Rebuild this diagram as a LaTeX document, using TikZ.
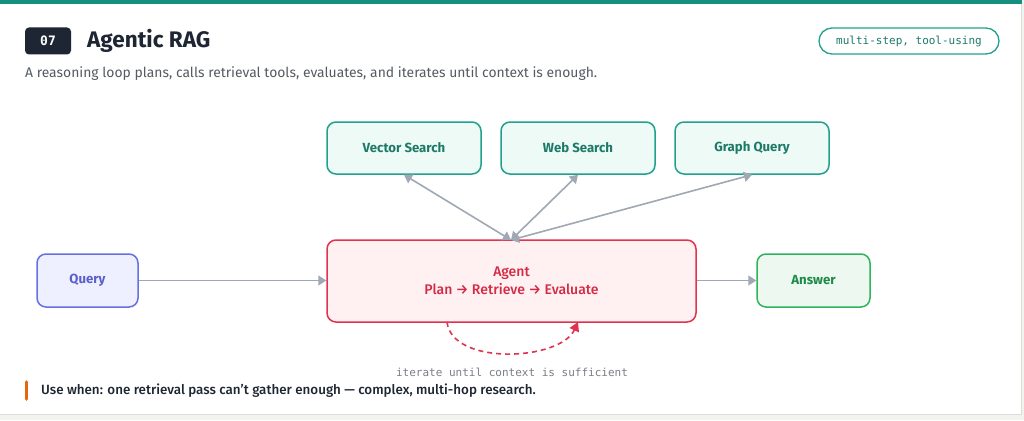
\documentclass[tikz,border=0pt]{standalone}
\usepackage{fontspec}
\setmainfont{Fira Sans}
\setsansfont{Fira Sans}
\setmonofont{DejaVu Sans Mono}
\newfontfamily\semib{Fira Sans Medium}
\usetikzlibrary{arrows.meta}
\definecolor{teal}{HTML}{15907F}
\definecolor{cardline}{HTML}{DEDED8}
\definecolor{outer}{HTML}{F2F2EE}
\definecolor{badge}{HTML}{1E2633}
\definecolor{titlec}{HTML}{1E2633}
\definecolor{subc}{HTML}{555B63}
\definecolor{tooldraw}{HTML}{22A08E}
\definecolor{toolfill}{HTML}{EDFAF6}
\definecolor{tooltext}{HTML}{1D7A68}
\definecolor{agdraw}{HTML}{E0334F}
\definecolor{agfill}{HTML}{FFF0F1}
\definecolor{agtext}{HTML}{D42A45}
\definecolor{qdraw}{HTML}{6670E0}
\definecolor{qfill}{HTML}{EEF0FF}
\definecolor{qtext}{HTML}{5A5FC9}
\definecolor{adraw}{HTML}{2FB35C}
\definecolor{afill}{HTML}{EDF9F0}
\definecolor{atext}{HTML}{1F8A4A}
\definecolor{conn}{HTML}{A0A8B4}
\definecolor{orangebar}{HTML}{E8650F}
\definecolor{notec}{HTML}{7A7F86}
\tikzset{
  box/.style={rounded corners=9pt, line width=1.5pt, minimum height=52pt, align=center, font=\fontsize{13.2}{16}\selectfont\bfseries},
  toolbox/.style={box, draw=tooldraw, fill=toolfill, text=tooltext, minimum width=154pt},
  conn/.style={draw=conn, line width=1.6pt, -{Triangle[length=8pt,width=10pt]}},
  conn2/.style={draw=conn, line width=1.6pt, {Triangle[length=8pt,width=10pt]}-{Triangle[length=8pt,width=10pt]}},
}
\begin{document}
\begin{tikzpicture}[x=1pt,y=-1pt]
\useasboundingbox (0,0) rectangle (1024,420);
\fill[outer] (0,0) rectangle (1024,420);
\fill[white, draw=cardline, line width=1pt] (-2,-2) rectangle (1021,414);
\fill[teal] (0,0) rectangle (1022,4);
% header
\node[fill=badge, rounded corners=4pt, minimum width=46pt, minimum height=27pt, inner sep=0pt, text=white, font=\ttfamily\bfseries\fontsize{13}{15}\selectfont] (badge) at (48,41) {07};
\node[anchor=west, text=titlec, font=\bfseries\fontsize{22.5}{26}\selectfont, inner sep=0pt] (title) at (87,41) {Agentic RAG};
\node[anchor=west, text=subc, font=\fontsize{13.9}{16}\selectfont, inner sep=0pt] (sub) at (25,74) {A reasoning loop plans, calls retrieval tools, evaluates, and iterates until context is enough.};
\node[draw=tooldraw, line width=1.3pt, rounded corners=13pt, minimum width=180pt, minimum height=26pt, inner sep=0pt, text=tooltext, font=\ttfamily\fontsize{11}{13}\selectfont] (pill) at (909,41) {multi-step, tool-using};
% nodes
\node[toolbox] (vec) at (404,148) {Vector Search};
\node[toolbox] (web) at (578,148) {Web Search};
\node[toolbox] (graph) at (752,148) {Graph Query};
\node[box, draw=agdraw, fill=agfill, text=agtext, minimum width=369pt, minimum height=82pt, font=\semib\fontsize{14}{18.5}\selectfont] (agent) at (511.5,281) {Agent\\Plan → Retrieve → Evaluate};
\node[box, draw=qdraw, fill=qfill, text=qtext, minimum width=101pt, minimum height=53pt] (query) at (87.5,280.5) {Query};
\node[box, draw=adraw, fill=afill, text=atext, minimum width=113pt, minimum height=53pt] (answer) at (813.5,280.5) {Answer};
% connectors
\coordinate (atop) at (511,240);
\draw[conn2] (atop) -- (vec.south);
\draw[conn2] (atop) -- (web.south);
\draw[conn2] (atop) -- (graph.south);
\draw[conn] (query.east) -- (agent.west |- query.east);
\draw[conn] (agent.east |- answer.west) -- (answer.west);
\coordinate (l1) at (447,322);
\coordinate (l2) at (578,322);
\draw[draw=agdraw, line width=1.6pt, dash pattern=on 5pt off 4pt, -{Triangle[length=9pt,width=10pt]}] (l1) .. controls (452,366) and (560,361) .. (l2);
\node[text=notec, font=\ttfamily\fontsize{11}{13}\selectfont, inner sep=0pt] (iter) at (512,372) {iterate until context is sufficient};
% footer
\draw[orangebar, line width=3.6pt, line cap=round] (26.5,382) -- (26.5,399);
\node[anchor=west, text=titlec, font=\semib\fontsize{13.4}{16}\selectfont, inner sep=0pt] (use) at (41,391) {Use when: one retrieval pass can’t gather enough — complex, multi-hop research.};
\end{tikzpicture}
\end{document}
